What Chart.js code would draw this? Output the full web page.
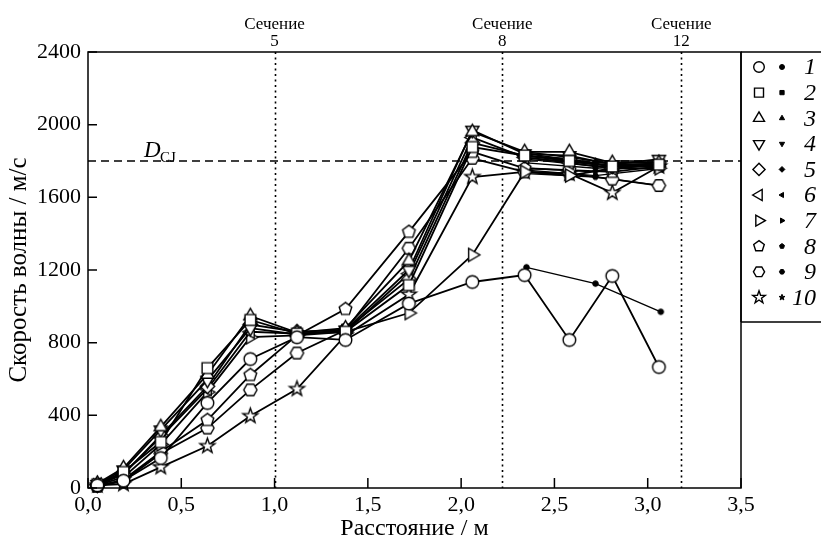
<!DOCTYPE html>
<html>
<head>
<meta charset="utf-8">
<script src="https://cdn.jsdelivr.net/npm/chart.js@4/dist/chart.umd.min.js"></script>
<style>
	html, body { margin: 0; padding: 0; background: #fff; }
	#wrap { width: 821px; height: 545px; }
</style>
</head>
<body>
<div id="wrap"><canvas id="wave_chart" width="821" height="545"></canvas></div>
<script>
// distances of the measuring points, m
const distance = [0.05, 0.19, 0.39, 0.64, 0.87, 1.12, 1.38, 1.72, 2.06, 2.34, 2.58, 2.81, 3.06]
const distanceFilled = [2.35, 2.72, 3.07]

// wave speed, m/s (open markers)
const speed1 = [15, 40, 165, 468, 710, 830, 815, 1015, 1134, 1172, 815, 1167, 666]
const speed2 = [20, 88, 253, 660, 925, 850, 860, 1117, 1877, 1830, 1800, 1770, 1780]
const speed3 = [25, 110, 336, 625, 947, 855, 880, 1250, 1960, 1850, 1850, 1790, 1790]
const speed4 = [20, 100, 320, 594, 880, 845, 870, 1200, 1970, 1840, 1830, 1780, 1810]
const speed5 = [15, 75, 290, 560, 900, 860, 870, 1150, 1900, 1830, 1810, 1770, 1790]
const speed6 = [20, 80, 280, 545, 860, 850, 860, 1180, 1930, 1820, 1790, 1760, 1780]
const speed7 = [15, 60, 240, 528, 830, 840, 860, 963, 1283, 1740, 1720, 1760, 1760]
const speed8 = [10, 45, 200, 374, 622, 840, 985, 1410, 1850, 1760, 1750, 1740, 1770]
const speed9 = [10, 38, 190, 330, 540, 743, 870, 1320, 1815, 1740, 1730, 1700, 1665]
const speed10 = [15, 22, 115, 231, 396, 545, 840, 1065, 1712, 1740, 1730, 1625, 1770]

// wave speed, m/s (filled markers)
const filled1 = [1215, 1125, 970]
const filled2 = [1830, 1790, 1790]
const filled3 = [1850, 1800, 1800]
const filled4 = [1840, 1790, 1795]
const filled5 = [1820, 1780, 1780]
const filled6 = [1810, 1770, 1770]
const filled7 = [1750, 1720, 1760]
const filled8 = [1790, 1760, 1780]
const filled9 = [1730, 1712, 1665]
const filled10 = [1760, 1740, 1785]

const seriesLabels = ['1', '2', '3', '4', '5', '6', '7', '8', '9', '10']
const markerShapes = ['circle', 'square', 'triUp', 'triDown', 'diamond', 'triLeft', 'triRight', 'pentagon', 'hexagon', 'star']

// sections and CJ speed
const sectionX = [1.0, 2.22, 3.18]
const sectionLabels = ['5', '8', '12']
const speedCJ = 1800

const xTicks = [0, 0.5, 1, 1.5, 2, 2.5, 3, 3.5]
const yTicks = [0, 400, 800, 1200, 1600, 2000, 2400]

const openSets = [speed1, speed2, speed3, speed4, speed5, speed6, speed7, speed8, speed9, speed10]
const filledSets = [filled1, filled2, filled3, filled4, filled5, filled6, filled7, filled8, filled9, filled10]

const SERIF = '"Liberation Serif", "DejaVu Serif", serif'

// draws a marker shape on the given context, centered at 0,0
function tracePath(g, shape, r) {
	const poly = (n, start, rad) => {
		for (let i = 0; i < n; i++) {
			const a = (start + i * 360 / n) * Math.PI / 180
			const px = Math.cos(a) * rad, py = Math.sin(a) * rad
			i ? g.lineTo(px, py) : g.moveTo(px, py)
		}
		g.closePath()
	}
	g.beginPath()
	switch (shape) {
		case 'circle': g.arc(0, 0, r, 0, Math.PI * 2); break
		case 'square': g.rect(-r * 0.85, -r * 0.85, r * 1.7, r * 1.7); break
		case 'triUp': poly(3, -90, r * 1.2); break
		case 'triDown': poly(3, 90, r * 1.2); break
		case 'triLeft': poly(3, 180, r * 1.2); break
		case 'triRight': poly(3, 0, r * 1.2); break
		case 'diamond': poly(4, 0, r * 1.15); break
		case 'pentagon': poly(5, -90, r * 1.05); break
		case 'hexagon': poly(6, 0, r * 1.05); break
		case 'star':
			for (let i = 0; i < 10; i++) {
				const a = (-90 + i * 36) * Math.PI / 180
				const rad = i % 2 ? r * 0.5 : r * 1.25
				i ? g.lineTo(Math.cos(a) * rad, Math.sin(a) * rad) : g.moveTo(Math.cos(a) * rad, Math.sin(a) * rad)
			}
			g.closePath()
			break
	}
}

function drawMarker(g, shape, x, y, r, filled) {
	g.save()
	g.translate(x, y)
	tracePath(g, shape, r)
	g.fillStyle = filled ? '#000' : '#fff'
	g.fill()
	g.lineWidth = filled ? 1 : 1.4
	g.strokeStyle = '#000'
	g.stroke()
	g.restore()
}

function markerCanvas(shape, r, filled) {
	const c = document.createElement('canvas')
	const s = Math.ceil(r * 3 + 4)
	c.width = c.height = s
	drawMarker(c.getContext('2d'), shape, s / 2, s / 2, r, filled)
	return c
}

const datasets = []
openSets.forEach((values, i) => {
	datasets.push({
		label: seriesLabels[i],
		data: values.map((v, k) => ({ x: distance[k], y: v })),
		borderColor: '#000',
		borderWidth: 1.8,
		pointStyle: markerCanvas(markerShapes[i], 6.3, false),
		pointRadius: 6,
		clip: false,
	})
})
filledSets.forEach((values, i) => {
	datasets.push({
		label: seriesLabels[i] + '*',
		data: values.map((v, k) => ({ x: distanceFilled[k], y: v })),
		borderColor: '#000',
		borderWidth: 1.3,
		pointStyle: markerCanvas(markerShapes[i], 2.8, true),
		pointRadius: 3,
		clip: false,
	})
})

// frame, section lines, D_CJ line, inward ticks and the legend box
const decorations = {
	id: 'decorations',
	beforeDatasetsDraw(chart) {
		const { ctx, chartArea: a, scales: { x, y } } = chart
		ctx.save()
		ctx.strokeStyle = '#000'
		ctx.lineWidth = 1.6
		ctx.setLineDash([2, 3.5])
		sectionX.forEach(v => {
			const px = Math.round(x.getPixelForValue(v)) + 0.5
			ctx.beginPath()
			ctx.moveTo(px, a.top)
			ctx.lineTo(px, a.bottom)
			ctx.stroke()
		})
		ctx.lineWidth = 1.5
		ctx.setLineDash([8, 5])
		const py = y.getPixelForValue(speedCJ)
		ctx.beginPath()
		ctx.moveTo(a.left, py)
		ctx.lineTo(a.right, py)
		ctx.stroke()
		ctx.restore()
	},
	afterDraw(chart) {
		const { ctx, chartArea: a, scales: { x, y } } = chart
		ctx.save()
		ctx.strokeStyle = '#000'
		ctx.lineWidth = 1.5
		// frame
		ctx.strokeRect(a.left, a.top, a.right - a.left, a.bottom - a.top)
		// inward tick marks
		ctx.beginPath()
		xTicks.forEach(v => {
			const px = x.getPixelForValue(v)
			ctx.moveTo(px, a.bottom)
			ctx.lineTo(px, a.bottom - 10)
		})
		yTicks.forEach(v => {
			const py = y.getPixelForValue(v)
			ctx.moveTo(a.left, py)
			ctx.lineTo(a.left + 9, py)
		})
		ctx.stroke()

		// section captions
		ctx.fillStyle = '#000'
		ctx.textAlign = 'center'
		ctx.textBaseline = 'alphabetic'
		ctx.font = '17px ' + SERIF
		sectionX.forEach((v, i) => {
			const px = x.getPixelForValue(v)
			ctx.fillText('Сечение', px, 29)
			ctx.fillText(sectionLabels[i], px, 46)
		})

		// D_CJ caption
		ctx.textAlign = 'left'
		ctx.font = 'italic 23px ' + SERIF
		ctx.fillText('D', 144, 157)
		ctx.font = '15px ' + SERIF
		ctx.fillText('CJ', 160, 162)

		// legend box
		const lx = a.right, lTop = a.top, lBottom = 322
		ctx.beginPath()
		ctx.moveTo(lx, lTop)
		ctx.lineTo(chart.width, lTop)
		ctx.moveTo(lx, lBottom)
		ctx.lineTo(chart.width, lBottom)
		ctx.moveTo(lx, lTop)
		ctx.lineTo(lx, lBottom)
		ctx.stroke()
		const rowH = (lBottom - lTop - 14) / seriesLabels.length
		seriesLabels.forEach((label, i) => {
			const cy = lTop + 15 + i * rowH
			drawMarker(ctx, markerShapes[i], lx + 18, cy, 5.3, false)
			drawMarker(ctx, markerShapes[i], lx + 41, cy, 2.5, true)
			ctx.font = 'italic 24px ' + SERIF
			ctx.textAlign = 'right'
			ctx.textBaseline = 'middle'
			ctx.fillStyle = '#000'
			ctx.fillText(label, lx + 75, cy + 1)
		})
		ctx.restore()
	},
}

const ctx = document.getElementById('wave_chart')
const waveChart = new Chart(ctx, {
	type: 'line',
	data: { datasets },
	options: {
		responsive: false,
		animation: false,
		layout: { padding: { top: 52, right: 80, left: 0, bottom: 0 } },
		plugins: { legend: { display: false }, tooltip: { enabled: false } },
		scales: {
			x: {
				type: 'linear',
				min: 0,
				max: 3.5,
				afterFit: s => { s.height = 57 },
				afterBuildTicks: s => { s.ticks = xTicks.map(v => ({ value: v })) },
				grid: { display: false, drawTicks: false },
				border: { display: false },
				ticks: {
					padding: 4,
					color: '#000',
					font: { family: SERIF, size: 22 },
					callback: v => v.toFixed(1).replace('.', ','),
				},
				title: {
					display: true,
					text: 'Расстояние / м',
					color: '#000',
					font: { family: SERIF, size: 24 },
					padding: { top: 0, bottom: 2 },
				},
			},
			y: {
				type: 'linear',
				min: 0,
				max: 2400,
				afterFit: s => { s.width = 88 },
				afterBuildTicks: s => { s.ticks = yTicks.map(v => ({ value: v })) },
				grid: { display: false, drawTicks: false },
				border: { display: false },
				ticks: {
					padding: 7,
					color: '#000',
					font: { family: SERIF, size: 22 },
					callback: v => String(v),
				},
				title: {
					display: true,
					text: 'Скорость волны / м/с',
					color: '#000',
					font: { family: SERIF, size: 25 },
					padding: { top: 4, bottom: 0 },
				},
			},
		},
	},
	plugins: [decorations],
})
</script>
</body>
</html>
